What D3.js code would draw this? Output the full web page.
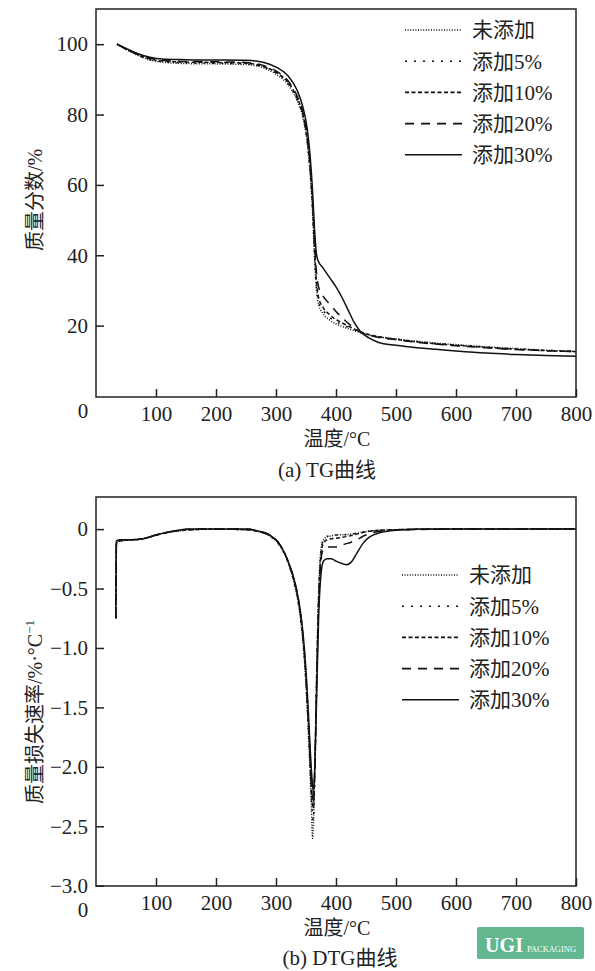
<!DOCTYPE html>
<html>
<head>
<meta charset="utf-8">
<script src="https://cdn.jsdelivr.net/npm/d3@7"></script>
<style>
  body { margin: 0; background: #fff; }
  svg { display: block; }
  text { font-family: "Liberation Serif", "Noto Sans CJK SC", serif; fill: #222; }
</style>
</head>
<body>
<svg id="chart" width="595" height="971"></svg>
<script>
// legend names, same order for both panels
const seriesNames = ["未添加", "添加5%", "添加10%", "添加20%", "添加30%"];
const dashes = ["1,1.6", "2,7", "4,2.5", "9,7", null];

const xTicks = [100, 200, 300, 400, 500, 600, 700, 800];
const tgTicks = [20, 40, 60, 80, 100];
const dtgTicks = [0, -0.5, -1.0, -1.5, -2.0, -2.5, -3.0];

// TG curves, [temperature, mass %]
const tgNone = [[35,100],[50,98.5],[70,96.8],[90,95.5],[110,94.9],[150,94.5],[200,94.4],[250,94.2],[280,93.2],[300,91.5],[320,88.5],[335,84],[345,79],[352,72],[357,63],[361,52],[364,40],[367,31],[371,26],[378,23.5],[390,21.5],[410,19.8],[430,18.6],[450,17.5],[470,16.8],[500,16.2],[550,15.3],[600,14.6],[650,14],[700,13.5],[750,13.0],[800,12.7]];
const tg5 = [[35,100],[50,98.6],[70,96.9],[90,95.6],[110,95],[150,94.7],[200,94.6],[250,94.4],[280,93.4],[300,91.8],[320,88.8],[335,84.3],[345,79.5],[352,72.5],[357,63.5],[361,53],[364,41.5],[367,32],[371,27],[378,24.5],[390,22.3],[410,20.3],[430,18.9],[450,17.6],[470,16.9],[500,16.2],[550,15.2],[600,14.5],[650,13.9],[700,13.4],[750,13.0],[800,12.8]];
const tg10 = [[35,100],[50,98.6],[70,97],[90,95.8],[110,95.2],[150,94.9],[200,94.8],[250,94.6],[280,93.6],[300,92],[320,89.2],[335,84.8],[345,80],[352,73],[357,64.5],[361,54],[364,43],[367,33.5],[371,28],[378,25.3],[390,23],[410,20.8],[430,19.1],[450,17.7],[470,16.9],[500,16.1],[550,15.1],[600,14.4],[650,13.8],[700,13.3],[750,12.9],[800,12.6]];
const tg20 = [[35,100],[50,98.7],[70,97.1],[90,96],[110,95.4],[150,95.1],[200,95],[250,94.8],[280,93.9],[300,92.4],[320,89.6],[335,85.3],[345,80.5],[352,74],[357,65.5],[361,55.5],[364,45],[367,36],[371,31],[378,28.5],[390,26],[400,24],[412,22],[425,20],[440,18.2],[455,17.3],[470,16.7],[500,16],[550,15],[600,14.3],[650,13.7],[700,13.2],[750,12.9],[800,12.6]];
const tg30 = [[35,100],[50,98.8],[70,97.3],[90,96.3],[110,95.8],[150,95.6],[200,95.5],[250,95.4],[280,94.8],[300,93.5],[320,91],[335,87],[345,82],[352,76],[357,68],[361,58],[364,48],[367,41],[370,38.5],[378,36.5],[390,33.5],[400,31],[410,28],[420,24.5],[430,21],[440,18.5],[455,16.5],[470,15.3],[500,14.4],[550,13.5],[600,12.8],[650,12.2],[700,11.8],[750,11.5],[800,11.3]];

// DTG curves, [temperature, %/°C]
const dtgNone = [[33,-0.75],[34,-0.12],[40,-0.1],[60,-0.09],[80,-0.08],[100,-0.05],[130,-0.02],[160,-0.005],[200,0],[250,-0.005],[270,-0.02],[290,-0.06],[305,-0.13],[320,-0.28],[330,-0.45],[337,-0.62],[343,-0.85],[348,-1.15],[352,-1.5],[356,-1.95],[359,-2.35],[361,-2.6],[364,-2.2],[367,-1.4],[370,-0.7],[373,-0.3],[377,-0.12],[383,-0.07],[390,-0.06],[400,-0.05],[420,-0.045],[440,-0.03],[460,-0.015],[500,-0.005],[600,0],[700,0],[800,0]];
const dtg5 = [[33,-0.75],[34,-0.11],[40,-0.1],[60,-0.09],[80,-0.08],[100,-0.05],[130,-0.02],[160,-0.005],[200,0],[250,-0.005],[270,-0.02],[290,-0.06],[305,-0.13],[320,-0.28],[330,-0.44],[337,-0.61],[343,-0.84],[348,-1.13],[352,-1.48],[356,-1.9],[359,-2.25],[362,-2.45],[365,-2.0],[368,-1.2],[371,-0.6],[374,-0.25],[378,-0.1],[385,-0.06],[400,-0.05],[420,-0.045],[440,-0.03],[460,-0.015],[500,-0.005],[600,0],[700,0],[800,0]];
const dtg10 = [[33,-0.75],[34,-0.11],[40,-0.1],[60,-0.09],[80,-0.08],[100,-0.05],[130,-0.02],[160,-0.005],[200,0],[250,-0.005],[270,-0.02],[290,-0.055],[305,-0.12],[320,-0.27],[330,-0.43],[337,-0.6],[343,-0.82],[348,-1.1],[352,-1.45],[356,-1.85],[359,-2.2],[362,-2.35],[365,-1.95],[368,-1.2],[371,-0.6],[374,-0.27],[378,-0.13],[385,-0.09],[395,-0.08],[410,-0.07],[425,-0.055],[440,-0.035],[460,-0.015],[500,-0.005],[600,0],[700,0],[800,0]];
const dtg20 = [[33,-0.75],[34,-0.1],[40,-0.09],[60,-0.09],[80,-0.08],[100,-0.05],[130,-0.015],[160,0],[250,0],[270,-0.015],[290,-0.05],[305,-0.12],[320,-0.27],[330,-0.42],[337,-0.58],[343,-0.8],[348,-1.08],[352,-1.42],[356,-1.82],[359,-2.15],[362,-2.3],[365,-1.95],[368,-1.25],[371,-0.65],[374,-0.32],[378,-0.18],[385,-0.15],[400,-0.15],[412,-0.13],[425,-0.11],[435,-0.09],[445,-0.06],[455,-0.04],[470,-0.02],[500,-0.008],[600,0],[800,0]];
const dtg30 = [[33,-0.75],[34,-0.1],[40,-0.09],[60,-0.09],[80,-0.08],[100,-0.05],[130,-0.015],[160,0],[250,0],[270,-0.015],[290,-0.05],[305,-0.12],[320,-0.27],[330,-0.42],[337,-0.58],[343,-0.78],[348,-1.05],[353,-1.45],[357,-1.85],[360,-2.1],[362,-2.2],[365,-1.95],[368,-1.35],[371,-0.75],[375,-0.38],[379,-0.27],[385,-0.25],[392,-0.25],[400,-0.27],[410,-0.29],[418,-0.3],[425,-0.28],[435,-0.2],[445,-0.12],[455,-0.07],[470,-0.035],[500,-0.01],[550,0],[800,0]];

const tgSeries = [tgNone, tg5, tg10, tg20, tg30];
const dtgSeries = [dtgNone, dtg5, dtg10, dtg20, dtg30];

const svg = d3.select("#chart");
svg.append("rect").attr("width", 595).attr("height", 971).attr("fill", "#fff");

const left = 96, right = 576;
const x = d3.scaleLinear().domain([0, 800]).range([left, right]);

function panel(opts) {
  const { top, bottom, y, yTicks, yFmt, data, legendX, legendY, xTitleY, capY, caption, yTitle, yTitleY, id } = opts;
  const g = svg.append("g");

  g.append("clipPath").attr("id", id).append("rect")
    .attr("x", left).attr("y", top).attr("width", right - left).attr("height", bottom - top);

  const line = d3.line().x(d => x(d[0])).y(d => y(d[1])).curve(d3.curveMonotoneX);
  data.forEach((s, i) => {
    g.append("path").datum(s)
      .attr("clip-path", `url(#${id})`)
      .attr("d", line)
      .attr("fill", "none")
      .attr("stroke", "#111")
      .attr("stroke-width", 1.5)
      .attr("stroke-dasharray", dashes[i]);
  });

  // frame
  g.append("rect").attr("x", left).attr("y", top).attr("width", right - left).attr("height", bottom - top)
    .attr("fill", "none").attr("stroke", "#222").attr("stroke-width", 1.5);

  const xa = g.append("g").attr("transform", `translate(0,${bottom})`)
    .call(d3.axisBottom(x).tickValues(xTicks).tickSize(-8).tickPadding(20).tickFormat(d3.format("d")));
  const ya = g.append("g").attr("transform", `translate(${left},0)`)
    .call(d3.axisLeft(y).tickValues(yTicks).tickSize(-8).tickPadding(8).tickFormat(yFmt));
  [xa, ya].forEach(a => {
    a.select(".domain").remove();
    a.selectAll(".tick line").attr("stroke", "#222").attr("stroke-width", 1.5);
    a.selectAll("text").attr("font-size", 21).attr("fill", "#222")
      .attr("font-family", "'Liberation Serif', serif");
  });
  xa.selectAll("text").attr("dy", "0.2em");

  // the shared origin label
  g.append("text").attr("x", 83).attr("y", bottom + (opts.zeroDy)).attr("text-anchor", "middle")
    .attr("font-size", 21).text("0");

  g.append("text").attr("x", 337).attr("y", xTitleY).attr("text-anchor", "middle")
    .attr("font-size", 20).text("温度/°C");
  g.append("text").attr("x", capY[0]).attr("y", capY[1]).attr("text-anchor", "middle")
    .attr("font-size", 21).text(caption);

  const yt = g.append("text").attr("transform", `translate(42,${yTitleY}) rotate(-90)`)
    .attr("text-anchor", "middle").attr("font-size", 20);
  yTitle(yt);

  // legend
  seriesNames.forEach((n, i) => {
    const ly = legendY + i * 31.2;
    g.append("line").attr("x1", legendX).attr("x2", legendX + 57).attr("y1", ly).attr("y2", ly)
      .attr("stroke", "#111").attr("stroke-width", 1.6).attr("stroke-dasharray", dashes[i]);
    g.append("text").attr("x", legendX + 67).attr("y", ly).attr("dy", "0.35em")
      .attr("font-size", 21).text(n);
  });
}

// (a) TG
panel({
  id: "clipA",
  top: 9, bottom: 397,
  y: d3.scaleLinear().domain([0, 110]).range([396, 9]),
  yTicks: tgTicks, yFmt: d3.format("d"),
  data: tgSeries,
  legendX: 405, legendY: 30,
  xTitleY: 446, capY: [327, 477], caption: "(a) TG曲线",
  zeroDy: 21,
  yTitleY: 200,
  yTitle: t => t.text("质量分数/%")
});

// (b) DTG
panel({
  id: "clipB",
  top: 497, bottom: 886,
  y: d3.scaleLinear().domain([-3, 0.27]).range([885.7, 497]),
  yTicks: dtgTicks, yFmt: d => d === 0 ? "0" : d3.format(".1f")(d),
  data: dtgSeries,
  legendX: 402, legendY: 575,
  xTitleY: 935, capY: [340, 965], caption: "(b) DTG曲线",
  zeroDy: 31,
  yTitleY: 712,
  yTitle: t => {
    t.append("tspan").text("质量损失速率/%·°C");
    t.append("tspan").attr("dy", -8).attr("font-size", 13).text("−1");
  }
});

// badge in the corner
const badge = svg.append("g");
badge.append("rect").attr("x", 477).attr("y", 927).attr("width", 107).attr("height", 32).attr("rx", 2).attr("fill", "#62b78f");
badge.append("text").attr("x", 485).attr("y", 952).attr("font-size", 22).attr("font-weight", "bold")
  .attr("textLength", 38).attr("lengthAdjust", "spacingAndGlyphs")
  .style("fill", "#fff").text("UGI");
badge.append("text").attr("x", 527).attr("y", 952).attr("font-size", 9)
  .attr("textLength", 49).attr("lengthAdjust", "spacingAndGlyphs")
  .attr("font-family", "'Liberation Sans', sans-serif").style("fill", "#fff").text("PACKAGING");
</script>
</body>
</html>
